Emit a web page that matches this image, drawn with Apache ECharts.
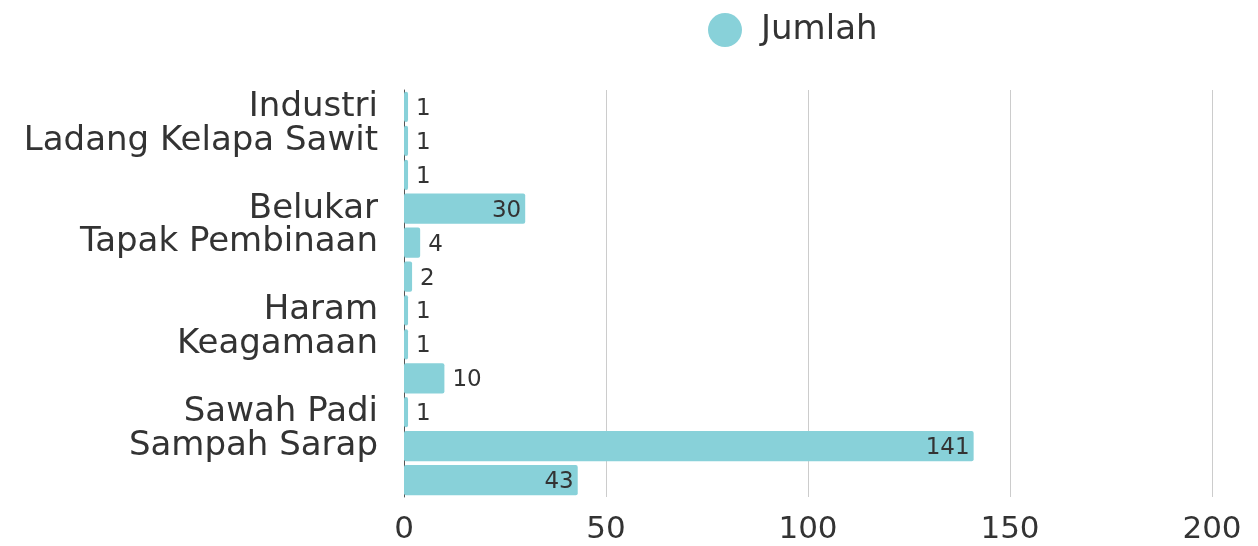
<!DOCTYPE html>
<html><head><meta charset="utf-8">
<script src="https://cdn.jsdelivr.net/npm/echarts@6/dist/echarts.min.js"></script>
<style>html,body{margin:0;padding:0;background:#fff}#c{width:1258px;height:546px}</style>
</head><body><div id="c"></div>
<script>
const categories = ["Industri","Ladang Kelapa Sawit","","Belukar","Tapak Pembinaan","","Haram","Keagamaan","","Sawah Padi","Sampah Sarap",""];
const values = [1,1,1,30,4,2,1,1,10,1,141,43];
const xTicks = [0,50,100,150,200];
const seriesName = "Jumlah";
const FONT = "DejaVu Sans";
const chart = echarts.init(document.getElementById('c'));
chart.setOption({
  animation:false,
  textStyle:{fontFamily:FONT},
  legend:{top:8,left:703,icon:'circle',itemWidth:34,itemHeight:34,itemGap:10,
    textStyle:{fontSize:34,color:'#333',fontFamily:FONT,padding:[0,0,0,14]},data:[seriesName]},
  grid:{left:404,right:46,top:90,bottom:49,containLabel:false},
  xAxis:{type:'value',min:xTicks[0],max:xTicks[xTicks.length-1],interval:50,
    axisLabel:{fontSize:31,color:'#333',margin:17,fontFamily:FONT},
    axisLine:{show:false},axisTick:{show:false},
    splitLine:{lineStyle:{color:'#ccc',width:1}}},
  yAxis:{type:'category',inverse:true,data:categories,
    axisLabel:{fontSize:34,color:'#333',margin:26,fontFamily:FONT,interval:0},
    axisLine:{show:true,lineStyle:{color:'#555',width:1}},axisTick:{show:false}},
  series:[{name:seriesName,type:'bar',barCategoryGap:'11%',
    itemStyle:{color:'#88d1d9',borderRadius:2},
    data:values.map(v=>({value:v,label:{show:true,position: v>=20?'insideRight':'right',
      distance:v>=20?4:8,offset:[0,2],fontSize:23,color:'#333',fontFamily:FONT}}))}]
});
</script></body></html>
